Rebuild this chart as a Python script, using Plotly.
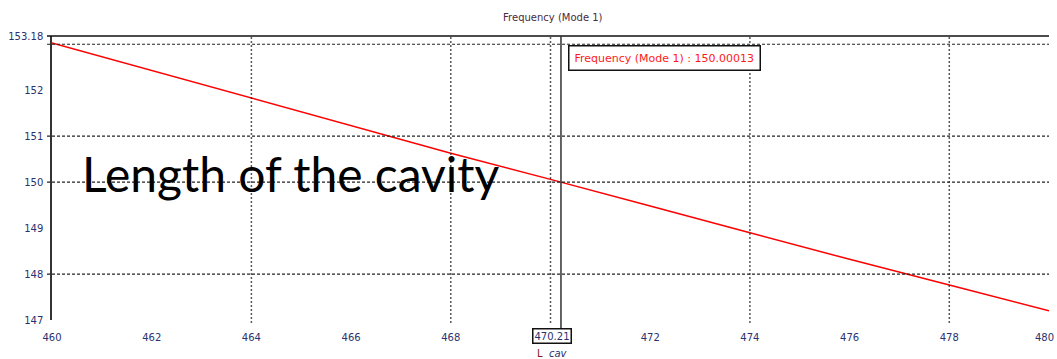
import plotly.graph_objects as go

# Cavity length sweep (L_cav) and the resulting mode-1 frequency
l_cav = [460, 462, 464, 466, 468, 470, 470.21, 472, 474, 476, 478, 480]
freq_mode1 = [153.03, 152.43, 151.82, 151.22, 150.63, 150.06, 150.00013,
              149.48, 148.90, 148.32, 147.76, 147.20]

# Axis labelling
y_ticks = [147, 148, 149, 150, 151, 152, 153.18]
y_tick_text = ["147", "148", "149", "150", "151", "152", "153.18"]
x_ticks = [460, 462, 464, 466, 468, 472, 474, 476, 478]
x_end = 480
y_grid = [148, 150, 151, 153]
x_grid = [464, 468, 470, 474, 478]

cursor_x = 470.21
cursor_val = 150.00013

tick_font = dict(family="DejaVu Sans", size=10, color="#2b3270")

fig = go.Figure()
fig.add_trace(go.Scatter(
    x=l_cav, y=freq_mode1, mode="lines",
    line=dict(color="#ff0000", width=1.5),
    hoverinfo="skip", showlegend=False,
))

shapes = []
# horizontal dashed gridlines
for gy in y_grid:
    shapes.append(dict(type="line", xref="paper", yref="y",
                       x0=-0.005, x1=1, y0=gy, y1=gy,
                       line=dict(color="#222222", width=1.2, dash="3px,2px")))
# vertical dotted gridlines
for gx in x_grid:
    shapes.append(dict(type="line", xref="x", yref="paper",
                       x0=gx, x1=gx, y0=-0.01, y1=1,
                       line=dict(color="#222222", width=1.5, dash="1.5px,2.5px")))
# top frame line
shapes.append(dict(type="line", xref="paper", yref="paper",
                   x0=-0.005, x1=1, y0=1, y1=1,
                   line=dict(color="#111111", width=1.5)))
# cursor
shapes.append(dict(type="line", xref="x", yref="paper",
                   x0=cursor_x, x1=cursor_x, y0=-0.03, y1=1,
                   line=dict(color="#333333", width=1.5)))

annotations = [
    dict(text="Frequency (Mode 1) : %.5f" % cursor_val,
         xref="x", yref="paper", x=cursor_x, y=1,
         xanchor="left", yanchor="top", xshift=7, yshift=-9,
         showarrow=False, font=dict(family="DejaVu Sans", size=11, color="#ff1a1a"),
         bordercolor="#111111", borderwidth=1.5, borderpad=5, bgcolor="white"),
    dict(text="%.2f" % cursor_x,
         xref="x", yref="paper", x=cursor_x, y=0,
         xanchor="center", yanchor="top", xshift=-9, yshift=-8,
         showarrow=False, font=tick_font,
         bordercolor="#111111", borderwidth=1.5, borderpad=1, bgcolor="white"),
    # last x tick label, kept inside the page edge
    dict(text=str(x_end),
         xref="x", yref="paper", x=x_end, y=0,
         xanchor="right", yanchor="top", xshift=7, yshift=-10,
         showarrow=False, font=tick_font),
    dict(text="<span style='color:#8a1a1a'>L</span>  <i>cav</i>",
         xref="x", yref="paper", x=cursor_x, y=0,
         xanchor="center", yanchor="top", xshift=-8, yshift=-26,
         showarrow=False, font=dict(family="DejaVu Sans", size=10, color="#2b3270")),
    dict(text="Length of the cavity",
         xref="paper", yref="y", x=0.028, y=150.18,
         xanchor="left", yanchor="middle", showarrow=False,
         font=dict(family="Lato", size=48, color="#000000")),
]

fig.update_layout(
    width=1057, height=359,
    margin=dict(l=52, r=8, t=36, b=39),
    paper_bgcolor="white", plot_bgcolor="white",
    title=dict(text="Frequency (Mode 1)", x=0.523, xanchor="center",
               y=0.95, yanchor="middle",
               font=dict(family="DejaVu Sans", size=10, color="#4a2a40")),
    xaxis=dict(range=[460, 480], tickvals=x_ticks,
               ticktext=[str(v) for v in x_ticks],
               showgrid=False, zeroline=False, showline=False, ticks="",
               tickfont=tick_font, ticklabelstandoff=10,
               automargin=False),
    yaxis=dict(range=[147, 153.18], tickvals=y_ticks, ticktext=y_tick_text,
               showgrid=False, zeroline=False,
               showline=True, linecolor="#333333", linewidth=1.5,
               ticks="", tickfont=tick_font, ticklabelstandoff=5,
               automargin=False),
    shapes=shapes,
    annotations=annotations,
)

fig.write_html("out.html")
